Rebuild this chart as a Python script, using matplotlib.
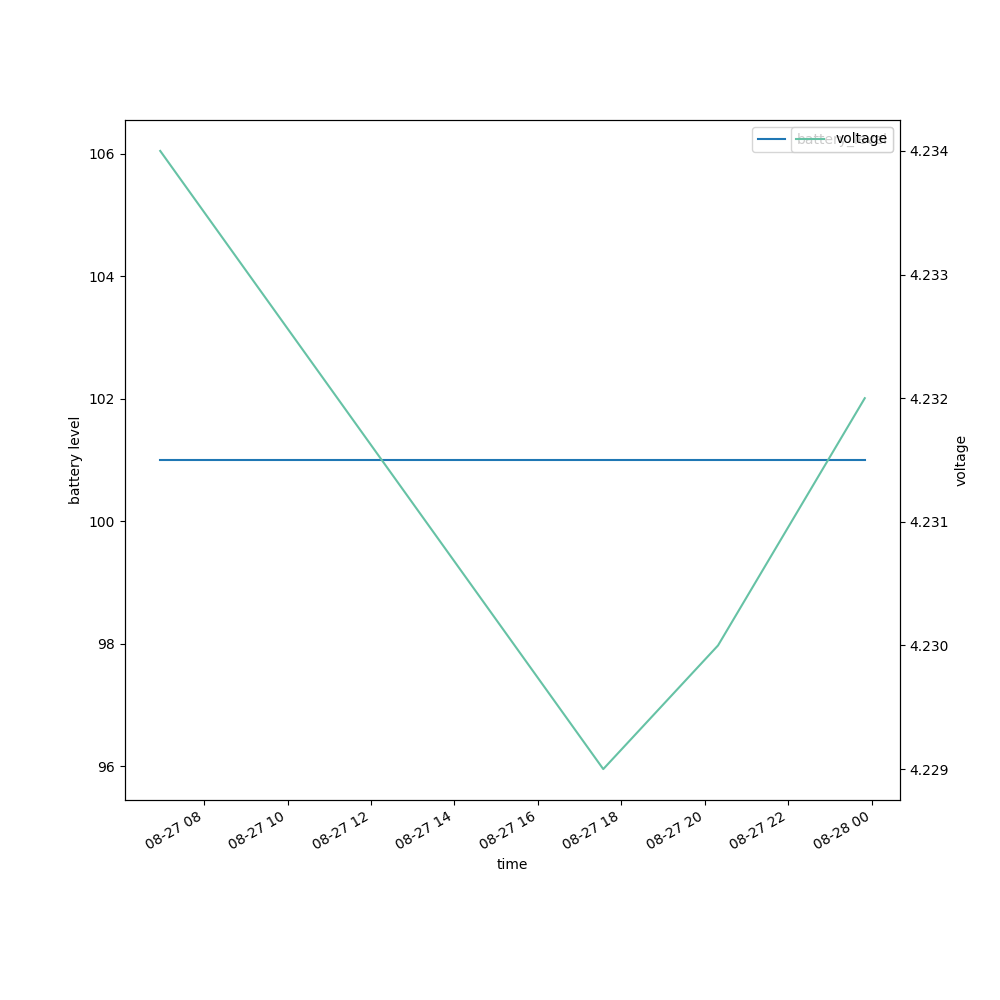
import matplotlib
matplotlib.use('Agg')
from matplotlib import pyplot as plt
import numpy as np
import pandas as pd

times = pd.to_datetime(['2023-08-27 06:57', '2023-08-27 17:34',
                        '2023-08-27 20:19', '2023-08-27 23:50'])
battery = [101, 101, 101, 101]
voltage = [4.234, 4.229, 4.230, 4.232]

fig, ax1 = plt.subplots(figsize=(10, 10), dpi=100)
ax1.plot(times, battery, color='#1f77b4', label='battery_level')
ax1.set_xlabel('time')
ax1.set_ylabel('battery level')
ax1.legend(loc='upper right')

ax2 = ax1.twinx()
ax2.plot(times, voltage, color='#66c2a5', label='voltage')
ax2.set_ylabel('voltage')
ax2.legend(loc='upper right')

fig.autofmt_xdate()
fig.savefig('out.png')
